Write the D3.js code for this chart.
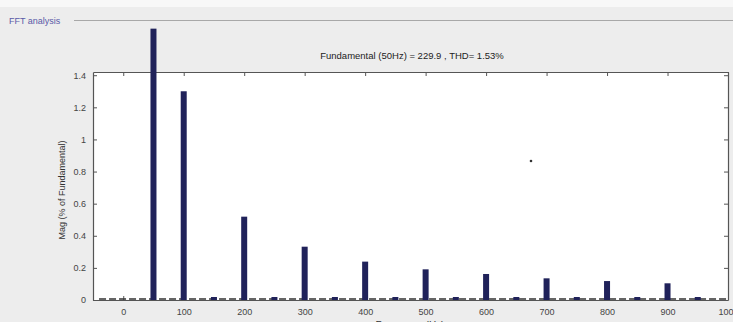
<!DOCTYPE html>
<html><head><meta charset="utf-8">
<script src="https://cdn.jsdelivr.net/npm/d3@7"></script>
<style>
html,body{margin:0;padding:0;background:#ededed;}
svg{display:block;font-family:"Liberation Sans",Arial,sans-serif;}
</style></head>
<body>
<svg id="chart" width="733" height="322"></svg>
<script>
const panelTitle = "FFT analysis";
const chartTitle = "Fundamental (50Hz) = 229.9 , THD= 1.53%";
const yLabel = "Mag (% of Fundamental)";
const xLabel = "Frequency (Hz)";
const frequencies = [50,100,150,200,250,300,350,400,450,500,550,600,650,700,750,800,850,900,950];
const magnitudes = [1.69,1.30,0.012,0.519,0.012,0.332,0.012,0.239,0.012,0.191,0.012,0.162,0.012,0.135,0.012,0.118,0.012,0.104,0.012];
const xTicks = [0,100,200,300,400,500,600,700,800,900,1000];
const yTicks = [0,0.2,0.4,0.6,0.8,1,1.2,1.4];

const svg = d3.select("#chart");
const L = 93, R = 728, T = 72, B = 300;
const x = d3.scaleLinear().domain([-50, 1000]).range([L, R]);
const y = d3.scaleLinear().domain([0, 1.42]).range([B, T]);

// top light strip
svg.append("rect").attr("x",0).attr("y",0).attr("width",733).attr("height",7).attr("fill","#f8f8f8");

// panel title and line
svg.append("line").attr("x1",74).attr("x2",733).attr("y1",20.5).attr("y2",20.5)
  .attr("stroke","#a8a8a8").attr("stroke-width",1);
svg.append("text").attr("x",9).attr("y",24).attr("font-size",9).attr("fill","#5a5aa8").text(panelTitle);

// plot area
svg.append("rect").attr("x",L).attr("y",T).attr("width",R-L).attr("height",B-T).attr("fill","#ffffff");

// chart title
svg.append("text").attr("x",412).attr("y",59).attr("text-anchor","middle")
  .attr("font-size",9.5).attr("fill","#222").text(chartTitle);

// axes with inward ticks
const axisColor = "#555";
const gb = svg.append("g").attr("transform",`translate(0,${B})`)
  .call(d3.axisBottom(x).tickValues(xTicks).tickSizeInner(-4).tickSizeOuter(0).tickPadding(9).tickFormat(d3.format("d")));
const gt = svg.append("g").attr("transform",`translate(0,${T})`)
  .call(d3.axisTop(x).tickValues(xTicks).tickSizeInner(-4).tickSizeOuter(0).tickFormat(""));
const gl = svg.append("g").attr("transform",`translate(${L},0)`)
  .call(d3.axisLeft(y).tickValues(yTicks).tickSizeInner(-4).tickSizeOuter(0).tickPadding(7).tickFormat(d => d===0||d===1 ? d3.format("d")(d) : d3.format(".1f")(d)));
const gr = svg.append("g").attr("transform",`translate(${R},0)`)
  .call(d3.axisRight(y).tickValues(yTicks).tickSizeInner(-4).tickSizeOuter(0).tickFormat(""));
[gb,gt,gl,gr].forEach(g=>{
  g.select(".domain").attr("stroke",axisColor).attr("stroke-width",1.2);
  g.selectAll(".tick line").attr("stroke",axisColor);
  g.selectAll(".tick text").attr("fill","#444").attr("font-size",9).attr("font-family","Liberation Sans, Arial, sans-serif");
});

// dashed baseline of small spectral components
svg.append("line").attr("x1",x(-40)).attr("x2",x(1000)).attr("y1",B-1).attr("y2",B-1)
  .attr("stroke","#333").attr("stroke-width",1.6).attr("stroke-dasharray","7,3");

// bars
const bw = 6;
svg.append("g").selectAll("rect").data(frequencies.map((f,i)=>({f,m:magnitudes[i]})))
  .join("rect")
  .attr("x", d => x(d.f) - bw/2)
  .attr("y", d => Math.min(y(d.m), B-3))
  .attr("width", bw)
  .attr("height", d => Math.max(B - y(d.m), 3))
  .attr("fill", "#20225a");

// axis labels
svg.append("text").attr("transform",`translate(65,${(T+B)/2+4}) rotate(-90)`)
  .attr("text-anchor","middle").attr("font-size",9).attr("fill","#333").text(yLabel);
svg.append("text").attr("x",410).attr("y",329).attr("text-anchor","middle")
  .attr("font-size",10).attr("fill","#333").text(xLabel);

// stray marker
svg.append("circle").attr("cx",531).attr("cy",161).attr("r",1.3).attr("fill","#333");
</script>
</body></html>
